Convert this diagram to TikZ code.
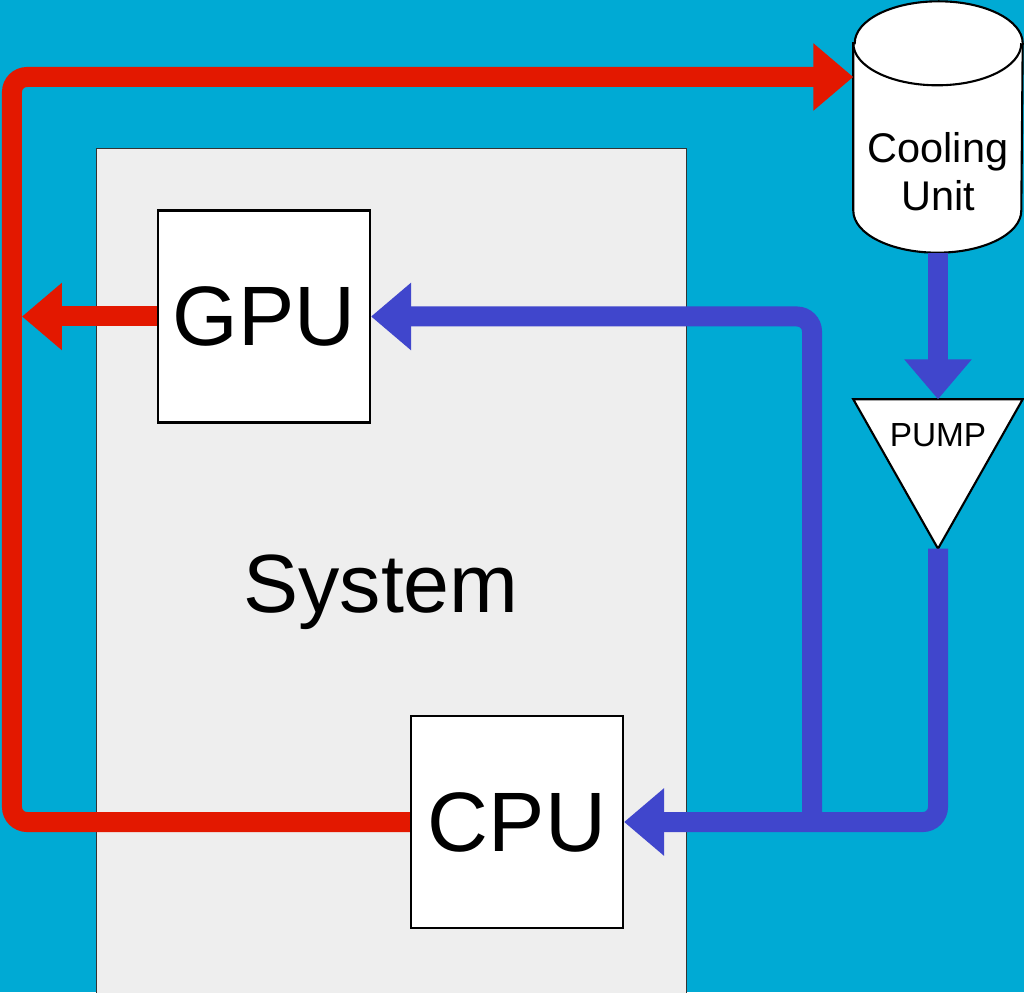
\documentclass[tikz,border=0pt]{standalone}
\usepackage{fontspec}
\setmainfont{Liberation Sans}
\usetikzlibrary{arrows.meta,positioning,calc,backgrounds}
\definecolor{water}{RGB}{0,170,212}
\definecolor{hot}{RGB}{227,24,0}
\definecolor{cold}{RGB}{64,70,204}
\definecolor{casing}{RGB}{238,238,238}

\begin{document}
\begin{tikzpicture}[>={Triangle[length=4mm,width=6.5mm]},
  chip/.style={draw, line width=0.6pt, fill=white, minimum width=2.12cm, minimum height=2.12cm, inner sep=0pt, font=\fontsize{24}{28}\selectfont},
  hotpipe/.style={draw=hot, line width=2mm, rounded corners=1.5mm},
  coldpipe/.style={draw=cold, line width=2mm, rounded corners=1.5mm}]
  \useasboundingbox (0,0) rectangle (10.24,9.92);
  \node[draw=black!80, fill=casing, minimum width=5.9cm, minimum height=8.7cm, anchor=north west] (system) at (0.96,8.44) {};
  \node[font=\fontsize{23.5}{28}\selectfont] (systemlabel) at (3.81,4.00) {System};
  \node[chip] (gpu) at (2.64,6.755) {GPU};
  \node[chip] (cpu) at (5.17,1.70) {CPU};
  \node[minimum width=1.68cm, minimum height=2.5cm, label={[align=center, font=\fontsize{11.8}{13.6}\selectfont, yshift=-4.5mm]center:Cooling\\Unit}] (cool) at (9.38,8.65) {};
  \node[inner sep=0pt, minimum width=1.68cm, text height=4.65mm, text depth=10.15mm, font=\fontsize{9.5}{11}\selectfont] (pump) at (9.38,5.18) {PUMP};

  % hot side
  \coordinate (hotcorner) at (0.12,9.15);
  \draw[hotpipe, ->] (cpu.west) -| (hotcorner) -- (hotcorner -| cool.west);
  \draw[hotpipe, ->, shorten >=1mm] (gpu.west) -- (gpu.west -| hotcorner);

  % cold side
  \coordinate (split) at (8.12,1.70);
  \draw[coldpipe, ->] (cool.south) -- (pump.north);
  \draw[coldpipe, ->] (pump.south) |- (cpu.east);
  \draw[coldpipe, ->] (split) |- (gpu.east);

  \begin{scope}[on background layer]
    \fill[water] (0,0) rectangle (10.24,9.92);
    \draw[line width=0.6pt, fill=white] ([yshift=-4.2mm]cool.north west) -- ([yshift=4.2mm]cool.south west)
      arc[start angle=180, end angle=360, x radius=8.4mm, y radius=4.2mm]
      -- ([yshift=-4.2mm]cool.north east)
      arc[start angle=0, end angle=180, x radius=8.4mm, y radius=4.2mm] -- cycle;
    \draw[line width=0.6pt] ([yshift=-4.2mm]cool.north west) arc[start angle=180, end angle=360, x radius=8.4mm, y radius=4.2mm];
    \draw[line width=0.6pt, fill=white] (pump.north west) -- (pump.north east) -- (pump.south) -- cycle;
  \end{scope}
\end{tikzpicture}
\end{document}
